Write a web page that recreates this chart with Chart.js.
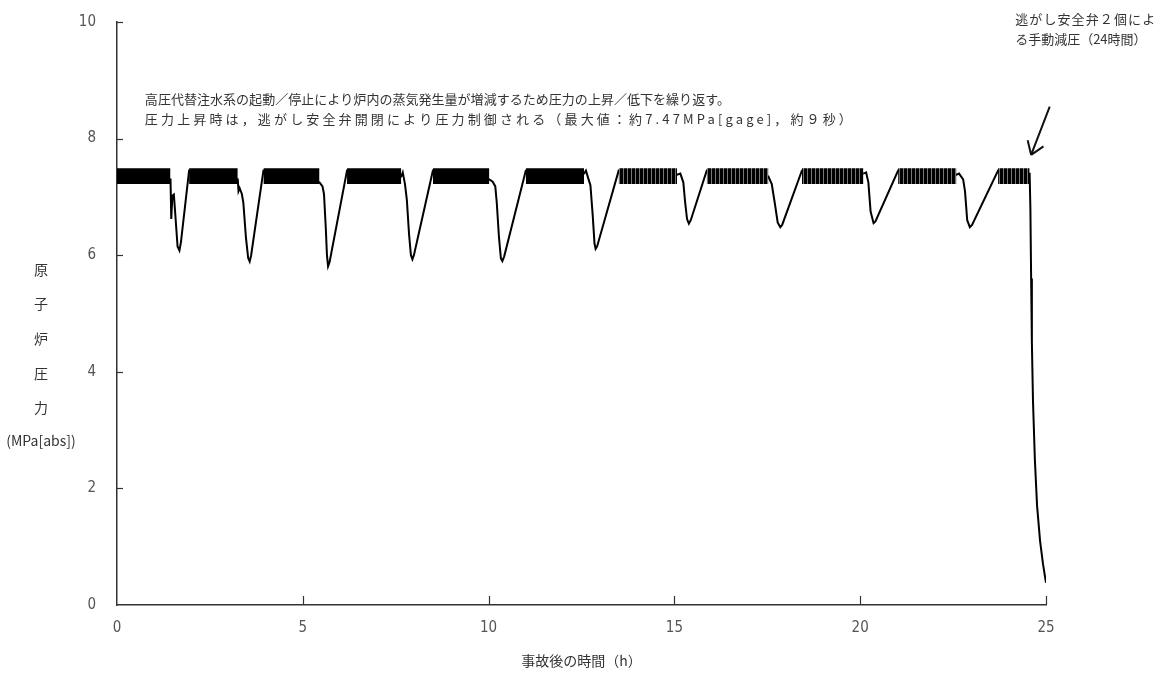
<!DOCTYPE html>
<html lang="ja">
<head>
<meta charset="utf-8">
<title>原子炉圧力の推移</title>
<script src="https://cdn.jsdelivr.net/npm/chart.js@4.4.1/dist/chart.umd.min.js"></script>
<style>
    html, body { margin: 0; padding: 0; background: #fff; }
    #wrap { width: 1159px; height: 677px; }
</style>
</head>
<body>
<div id="wrap"><canvas id="pressureChart" width="1159" height="677"></canvas></div>
<script>
// Reactor pressure trace (h after accident, MPa[abs])
const timeH = [
    0, 1.44, 1.46, 1.49, 1.53, 1.58, 1.63, 1.68, 1.72, 1.94,
    3.25, 3.27, 3.30, 3.36, 3.40, 3.47, 3.53, 3.57, 3.61, 3.94,
    5.45, 5.53, 5.57, 5.62, 5.65, 5.68, 5.72, 6.19,
    7.65, 7.69, 7.75, 7.80, 7.86, 7.91, 7.95, 7.99, 8.50,
    10.02, 10.11, 10.18, 10.22, 10.28, 10.33, 10.37, 10.42, 11.00,
    12.57, 12.62, 12.69, 12.74, 12.80, 12.85, 12.88, 12.92, 13.50,
    15.07, 15.16, 15.24, 15.29, 15.34, 15.39, 15.44, 15.87,
    17.53, 17.62, 17.70, 17.78, 17.85, 17.90, 18.43,
    20.09, 20.16, 20.22, 20.28, 20.36, 20.41, 21.02,
    22.59, 22.66, 22.77, 22.82, 22.88, 22.95, 23.01, 23.71,
    24.56, 24.58, 24.60, 24.62, 24.65, 24.70, 24.76, 24.84, 24.92, 25.00
];
const pressure = [
    7.35, 7.30, 6.62, 7.02, 7.04, 6.60, 6.15, 6.08, 6.22, 7.45,
    7.30, 7.10, 7.15, 7.05, 6.90, 6.30, 5.95, 5.89, 6.00, 7.45,
    7.25, 7.18, 7.05, 6.45, 6.00, 5.81, 5.88, 7.45,
    7.35, 7.42, 7.22, 6.95, 6.35, 6.00, 5.93, 6.00, 7.45,
    7.30, 7.26, 7.18, 6.90, 6.30, 5.95, 5.90, 5.98, 7.45,
    7.40, 7.45, 7.30, 7.20, 6.70, 6.20, 6.11, 6.15, 7.45,
    7.38, 7.40, 7.25, 6.90, 6.62, 6.54, 6.60, 7.45,
    7.35, 7.22, 6.90, 6.56, 6.48, 6.52, 7.45,
    7.40, 7.42, 7.25, 6.75, 6.55, 6.58, 7.45,
    7.38, 7.40, 7.30, 7.10, 6.60, 6.48, 6.52, 7.45,
    7.40, 6.80, 5.60, 4.50, 3.50, 2.50, 1.70, 1.10, 0.70, 0.38
];

// Spans where SRV open/close cycling turns the trace into a band
const plateauStart = [0, 1.94, 3.94, 6.19, 8.50, 11.00, 13.50, 15.87, 18.43, 21.02, 23.71];
const plateauEnd = [1.44, 3.25, 5.45, 7.65, 10.02, 12.57, 15.07, 17.53, 20.09, 22.59, 24.56];
const bandLow = 7.22;
const bandHigh = 7.49;

// Axis ticks
const xTicks = [0, 5, 10, 15, 20, 25];
const yTicks = [0, 2, 4, 6, 8, 10];

// Texts
const xTitle = '事故後の時間（h）';
const yTitleLines = ['原', '子', '炉', '圧', '力', '(MPa[abs])'];
const noteLines = [
    '高圧代替注水系の起動／停止により炉内の蒸気発生量が増減するため圧力の上昇／低下を繰り返す。',
    '圧力上昇時は，逃がし安全弁開閉により圧力制御される（最大値：約7.47MPa[gage]，約９秒）'
];
const srvNoteLines = ['逃がし安全弁２個によ', 'る手動減圧（24時間）'];

const jpFont = '"Noto Sans CJK JP", sans-serif';
const numFont = '"Liberation Sans Narrow", "DejaVu Sans Condensed", sans-serif';

// Striped fill for the later, sparser SRV cycling
function makeStripe() {
    const c = document.createElement('canvas');
    c.width = 4;
    c.height = 1;
    const g = c.getContext('2d');
    g.fillStyle = '#000';
    g.fillRect(0, 0, 3, 1);
    g.fillStyle = '#777';
    g.fillRect(3, 0, 1, 1);
    return g.createPattern(c, 'repeat');
}

// Band datasets: one low/high pair per plateau, filled between them
function buildBandDatasets() {
    const stripe = makeStripe();
    const sets = [];
    plateauStart.forEach((start, i) => {
        const end = plateauEnd[i];
        sets.push({
            data: [{ x: start, y: bandLow }, { x: end, y: bandLow }],
            borderWidth: 0,
            pointRadius: 0,
            fill: false
        });
        sets.push({
            data: [{ x: start, y: bandHigh }, { x: end, y: bandHigh }],
            borderWidth: 0,
            pointRadius: 0,
            backgroundColor: i >= 6 ? stripe : '#000',
            fill: '-1'
        });
    });
    return sets;
}

// Draw text stretched to a given width (the source uses wide Mincho spacing)
function drawSpread(ctx, text, x, y, width) {
    ctx.letterSpacing = '0px';
    const w = ctx.measureText(text).width;
    const n = Array.from(text).length;
    const gap = Math.max(0, (width - w) / (n - 1));
    ctx.letterSpacing = gap.toFixed(2) + 'px';
    ctx.fillText(text, x, y);
    ctx.letterSpacing = '0px';
}

// Inward tick marks, stacked y title, notes and arrow
const decorPlugin = {
    id: 'decor',
    afterDraw(chart) {
        const { ctx, scales: { x, y }, chartArea } = chart;
        ctx.save();

        // tick marks pointing into the plot
        ctx.strokeStyle = '#333';
        ctx.lineWidth = 1.2;
        yTicks.forEach(v => {
            if (v === 0) return;
            const py = Math.round(y.getPixelForValue(v)) + 0.5;
            ctx.beginPath();
            ctx.moveTo(chartArea.left, py);
            ctx.lineTo(chartArea.left + 6, py);
            ctx.stroke();
        });
        xTicks.forEach(v => {
            if (v === 0) return;
            const px = Math.round(x.getPixelForValue(v)) + 0.5;
            ctx.beginPath();
            ctx.moveTo(px, chartArea.bottom);
            ctx.lineTo(px, chartArea.bottom - 9);
            ctx.stroke();
        });

        // y title, one character per line
        ctx.fillStyle = '#333';
        ctx.textAlign = 'center';
        ctx.textBaseline = 'middle';
        ctx.font = '14px ' + jpFont;
        const titleY = [5.76, 5.17, 4.57, 3.97, 3.38, 2.82];
        yTitleLines.forEach((s, i) => {
            ctx.fillText(s, 41, y.getPixelForValue(titleY[i]));
        });

        // notes
        ctx.textAlign = 'left';
        ctx.font = '13px ' + jpFont;
        const nx = x.getPixelForValue(0.75);
        drawSpread(ctx, noteLines[0], nx, y.getPixelForValue(8.67), 585);
        drawSpread(ctx, noteLines[1], nx, y.getPixelForValue(8.34), 707);

        const sx = x.getPixelForValue(24.17);
        drawSpread(ctx, srvNoteLines[0], sx, y.getPixelForValue(10.05), 140);
        drawSpread(ctx, srvNoteLines[1], sx, y.getPixelForValue(9.71), 0);

        // arrow to the depressurisation point
        const ax = x.getPixelForValue(25.1), ay = y.getPixelForValue(8.55);
        const bx = x.getPixelForValue(24.6), by = y.getPixelForValue(7.72);
        const ang = Math.atan2(by - ay, bx - ax);
        ctx.strokeStyle = '#111';
        ctx.lineWidth = 2;
        ctx.beginPath();
        ctx.moveTo(ax, ay);
        ctx.lineTo(bx, by);
        ctx.moveTo(bx, by);
        ctx.lineTo(bx - 15 * Math.cos(ang - 0.6), by - 15 * Math.sin(ang - 0.6));
        ctx.moveTo(bx, by);
        ctx.lineTo(bx - 15 * Math.cos(ang + 0.6), by - 15 * Math.sin(ang + 0.6));
        ctx.stroke();

        ctx.restore();
    }
};

function initChart() {
    const ctx = document.getElementById('pressureChart');
    if (!ctx) return;

    const trace = timeH.map((t, i) => ({ x: t, y: pressure[i] }));

    new Chart(ctx, {
        type: 'line',
        data: {
            datasets: [
                ...buildBandDatasets(),
                {
                    label: '原子炉圧力',
                    data: trace,
                    borderColor: '#000',
                    borderWidth: 2,
                    pointRadius: 0,
                    tension: 0,
                    fill: false
                }
            ]
        },
        options: {
            responsive: false,
            animation: false,
            devicePixelRatio: 1,
            layout: { padding: { left: 57, right: 113, top: 15, bottom: 0 } },
            plugins: {
                legend: { display: false },
                tooltip: { enabled: false }
            },
            scales: {
                x: {
                    type: 'linear',
                    min: 0,
                    max: 25,
                    afterFit: s => { s.height = 72; },
                    afterBuildTicks: s => { s.ticks = xTicks.map(v => ({ value: v })); },
                    grid: { display: false },
                    border: { display: true, color: '#333', width: 1.5 },
                    ticks: {
                        padding: 6,
                        maxRotation: 0,
                        autoSkip: false,
                        color: '#555',
                        font: { family: numFont, size: 15 }
                    },
                    title: {
                        display: true,
                        text: xTitle,
                        color: '#333',
                        font: { family: jpFont, size: 14 },
                        padding: { top: 0, bottom: 8 }
                    }
                },
                y: {
                    min: 0,
                    max: 10,
                    afterFit: s => { s.width = 60; },
                    afterBuildTicks: s => { s.ticks = yTicks.map(v => ({ value: v })); },
                    grid: { display: false },
                    border: { display: true, color: '#333', width: 1.5 },
                    ticks: {
                        padding: 13,
                        autoSkip: false,
                        color: '#555',
                        font: { family: numFont, size: 15 }
                    }
                }
            }
        },
        plugins: [decorPlugin]
    });
}

initChart();
</script>
</body>
</html>
